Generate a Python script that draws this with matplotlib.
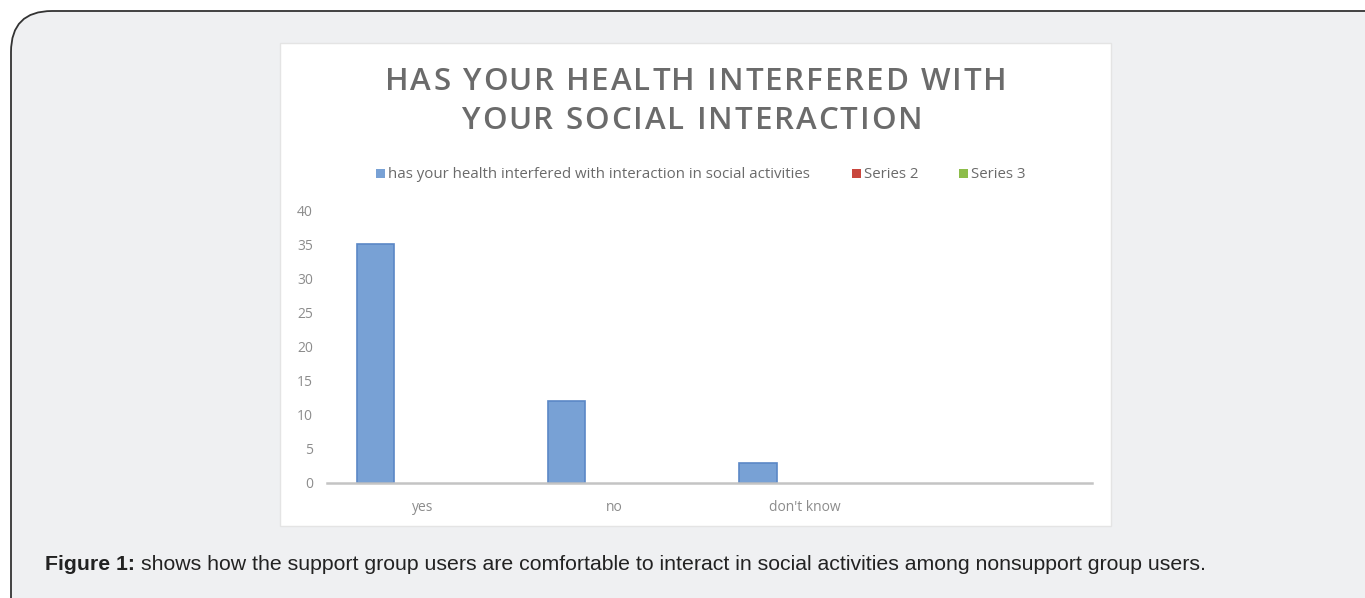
import matplotlib.pyplot as plt
from matplotlib.patches import FancyBboxPatch, Rectangle

categories = ['yes', 'no', "don't know", '']
values = [35, 12, 3]
series_names = ['has your health interfered with interaction in social activities',
                'Series 2', 'Series 3']
series_colors = ['#78a1d5', '#c9463d', '#8dbd4a']
yticks = [0, 5, 10, 15, 20, 25, 30, 35, 40]
title_lines = ['HAS YOUR HEALTH INTERFERED WITH', 'YOUR SOCIAL INTERACTION']
caption_bold = 'Figure 1:'
caption_rest = ('shows how the support group users are comfortable to interact '
                'in social activities among nonsupport group users.')

W, H = 1365, 598
fig = plt.figure(figsize=(W / 100, H / 100), dpi=100)
fig.patch.set_facecolor('white')
renderer = fig.canvas.get_renderer()


def fx(px):
    return px / W


def fy(py):
    return 1 - py / H


def text_width(s, **kw):
    t = fig.text(0, 0, s, **kw)
    w = t.get_window_extent(renderer).width
    t.remove()
    return w


def spaced_text(cx, cy, s, target_w, **kw):
    # draws s centred at cx with extra letter spacing so it spans target_w px
    full = text_width(s, **kw)
    gap = (target_w - full) / (len(s) - 1)
    x0 = cx - target_w / 2
    for i, ch in enumerate(s):
        if ch == ' ':
            continue
        off = text_width(s[:i], **kw) if i else 0
        fig.text(fx(x0 + off + i * gap), fy(cy), ch, ha='left', va='center', **kw)


# outer rounded frame (runs off the right and bottom edges)
frame = FancyBboxPatch((fx(11), fy(640)), fx(1400), (640 - 11) / H,
                       boxstyle='round,pad=0,rounding_size=0.03',
                       transform=fig.transFigure, facecolor='#eff0f2',
                       edgecolor='#333333', linewidth=1.3, mutation_aspect=W / H,
                       zorder=-10)
fig.patches.append(frame)

# white chart panel
panel = Rectangle((fx(280), fy(526)), fx(831), (526 - 43) / H,
                  transform=fig.transFigure, facecolor='white',
                  edgecolor='#e4e4e4', linewidth=1, zorder=-9)
fig.patches.append(panel)

ax = fig.add_axes([fx(327), fy(483), fx(1092 - 327), (483 - 210) / H], zorder=1)
ax.set_facecolor('none')

x = list(range(len(categories)))
ax.bar([i - 0.246 for i in range(len(values))], values, width=0.195,
       color=series_colors[0], edgecolor='#5b87c6', linewidth=1.2,
       label=series_names[0])

ax.set_xlim(-0.5, len(categories) - 0.5)
ax.set_ylim(0, 40)
ax.set_yticks(yticks)
ax.set_xticks(x)
ax.set_xticklabels(categories)
ax.tick_params(axis='both', length=0, colors='#8c8c8c', labelsize=10)
ax.tick_params(axis='y', pad=10)
ax.tick_params(axis='x', pad=12)
for s in ['top', 'right', 'left']:
    ax.spines[s].set_visible(False)
ax.spines['bottom'].set_color('#c4c4c4')
ax.spines['bottom'].set_linewidth(1.8)
for lbl in ax.get_xticklabels() + ax.get_yticklabels():
    lbl.set_family('Open Sans')

# title
tkw = dict(fontsize=22.5, color='#6b6b6b', family='Open Sans', fontweight='semibold')
spaced_text(696, 82, title_lines[0], 622, **tkw)
spaced_text(692, 121, title_lines[1], 461, **tkw)

# legend drawn as squares + text
leg_x = [376, 852, 959]
for name, col, lx in zip(series_names, series_colors, leg_x):
    fig.patches.append(Rectangle((fx(lx), fy(178)), fx(9), 9 / H,
                                 transform=fig.transFigure, facecolor=col,
                                 edgecolor='none'))
    fig.text(fx(lx + 12), fy(174), name, ha='left', va='center', fontsize=10.8,
             color='#6a6a6a', family='Open Sans')

# caption
ckw = dict(fontsize=15.3, color='#222222', family='Liberation Sans', va='center')
fig.text(fx(45), fy(565), caption_bold, ha='left', fontweight='bold', **ckw)
bw = text_width(caption_bold + ' ', fontsize=15.3, family='Liberation Sans',
                fontweight='bold')
fig.text(fx(45 + bw), fy(565), caption_rest, ha='left', **ckw)

fig.savefig('out.png', dpi=100, facecolor=fig.get_facecolor())
